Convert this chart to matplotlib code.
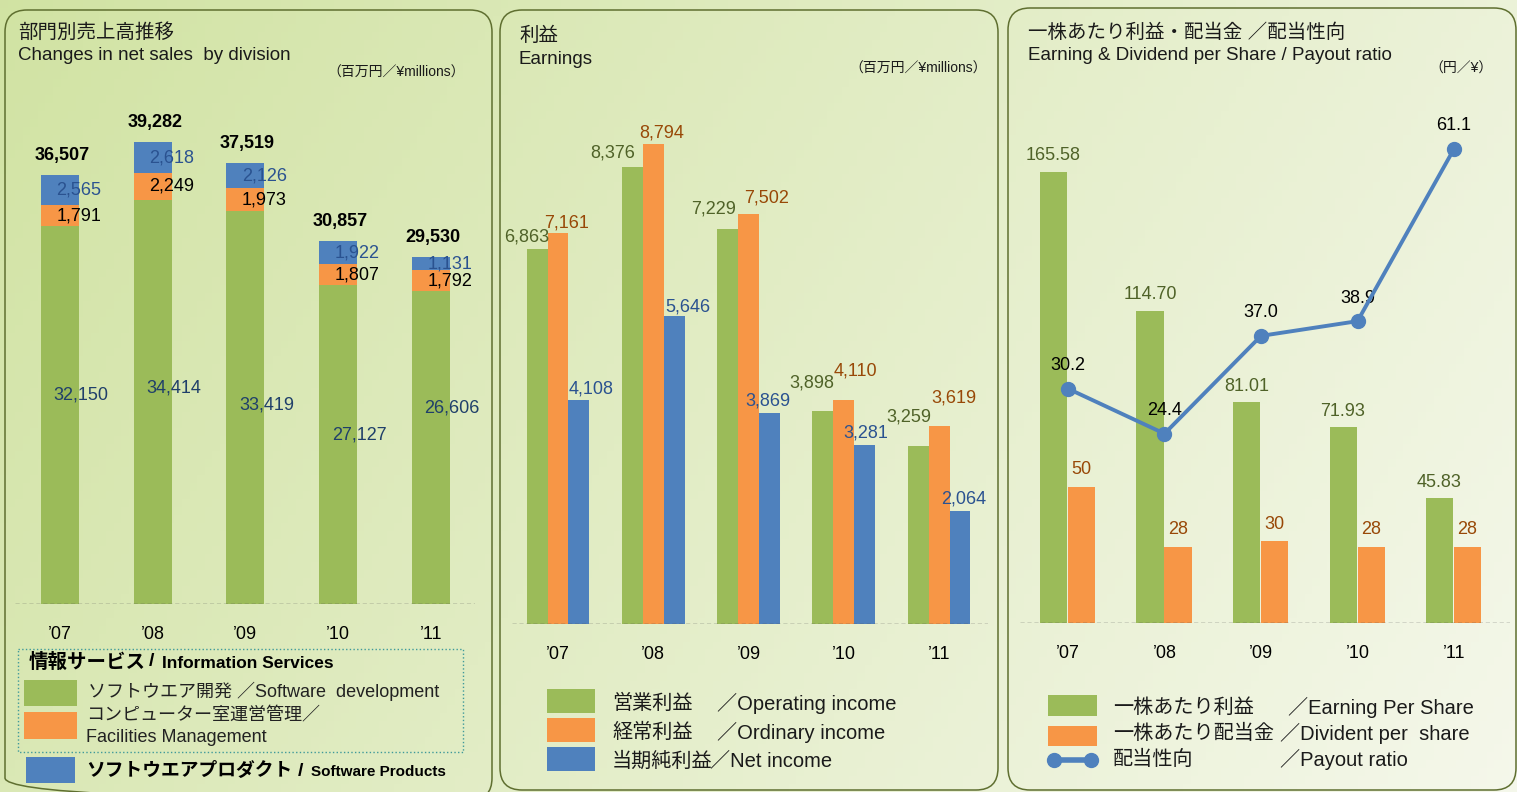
import numpy as np
import matplotlib.pyplot as plt
from matplotlib.patches import FancyBboxPatch, Rectangle
from matplotlib.lines import Line2D

plt.rcParams['font.family'] = ['Liberation Sans', 'Noto Sans CJK JP', 'DejaVu Sans']

# データ
years = ['’07', '’08', '’09', '’10', '’11']

# 部門別売上高 (百万円)
sw_dev = [32150, 34414, 33419, 27127, 26606]
facilities = [1791, 2249, 1973, 1807, 1792]
sw_products = [2565, 2618, 2126, 1922, 1131]
totals = [36507, 39282, 37519, 30857, 29530]

# 利益 (百万円)
operating = [6863, 8376, 7229, 3898, 3259]
ordinary = [7161, 8794, 7502, 4110, 3619]
net_income = [4108, 5646, 3869, 3281, 2064]

# 一株あたり (円) / 配当性向 (%)
eps = [165.58, 114.70, 81.01, 71.93, 45.83]
dps = [50, 28, 30, 28, 28]
payout = [30.2, 24.4, 37.0, 38.9, 61.1]

GREEN = '#9bbb59'
ORANGE = '#f79646'
BLUE = '#4f81bd'
OLIVE_TXT = '#4f6228'
BROWN_TXT = '#984807'
NAVY_TXT = '#1f3f6a'
BLUE_TXT = '#2a5290'

# ラベルのずらし量 (ピクセル)
dev_dy = [20, 14, 3, 10, 40]
op_off = [(-10, 12), (-20, 14), (-14, 20), (-11, 28), (-9, 29)]
ord_off = [(9, 10), (8, 11), (18, 16), (12, 29), (15, 28)]
net_off = [(12, 11), (14, 9), (-2, 12), (1, 12), (4, 12)]

W, H = 1517, 792
fig = plt.figure(figsize=(W / 100, H / 100), dpi=100)

# 背景 (ピクセル座標)
bg = fig.add_axes([0, 0, 1, 1], zorder=0)
bg.set_xlim(0, W)
bg.set_ylim(H, 0)
bg.axis('off')
c1 = np.array([0.82, 0.89, 0.64])
c2 = np.array([0.96, 0.97, 0.92])
gx, gy = np.meshgrid(np.linspace(0, 1, 200), np.linspace(0, 1, 100))
t = np.clip(0.75 * gx + 0.25 * gy, 0, 1)[..., None]
bg.imshow(c1 * (1 - t) + c2 * t, extent=[0, W, H, 0], aspect='auto', zorder=0)

for x0, x1, y0, y1 in [(5, 492, 10, 800), (500, 998, 10, 790), (1008, 1516, 8, 790)]:
    bg.add_patch(FancyBboxPatch((x0, y0), x1 - x0, y1 - y0,
                                boxstyle='round,pad=0,rounding_size=22',
                                fc='none', ec='#5f6f30', lw=1.1, zorder=1))


def make_axes(left, right, top, bottom):
    ax = fig.add_axes([left / W, (H - bottom) / H, (right - left) / W, (bottom - top) / H], zorder=2)
    ax.patch.set_alpha(0)
    for s in ax.spines.values():
        s.set_visible(False)
    ax.set_yticks([])
    ax.tick_params(axis='x', length=0, pad=16, labelsize=13)
    ax.axhline(0, color='#555555', ls=(0, (3, 2)), lw=1, zorder=3)
    return ax


x = np.arange(len(years))
FS = 13

# ---- 部門別売上高推移 ----
ax1 = make_axes(15, 475, 100, 604)
ax1.set_xlim(-0.485, 4.475)
ax1.set_ylim(0, 42894)
w1 = 0.41
ax1.bar(x, sw_dev, w1, color=GREEN, zorder=2)
ax1.bar(x, facilities, w1, bottom=sw_dev, color=ORANGE, zorder=2)
b2 = np.array(sw_dev) + np.array(facilities)
ax1.bar(x, sw_products, w1, bottom=b2, color=BLUE, zorder=2)
for i in range(len(years)):
    ax1.annotate(f'{sw_dev[i]:,}', (x[i], sw_dev[i] / 2), xytext=(21, dev_dy[i]), textcoords='offset pixels',
                 ha='center', va='center', fontsize=FS, color=NAVY_TXT)
    ax1.annotate(f'{facilities[i]:,}', (x[i], sw_dev[i] + facilities[i] / 2), xytext=(19, 0),
                 textcoords='offset pixels', ha='center', va='center', fontsize=FS, color='black')
    ax1.annotate(f'{sw_products[i]:,}', (x[i], b2[i] + sw_products[i] / 2), xytext=(19, 0),
                 textcoords='offset pixels', ha='center', va='center', fontsize=FS, color=BLUE_TXT)
    ax1.annotate(f'{totals[i]:,}', (x[i], b2[i] + sw_products[i]), xytext=(2, 20),
                 textcoords='offset pixels', ha='center', va='center', fontsize=FS,
                 fontweight='bold', color='black')
ax1.set_xticks(x, years)

# ---- 利益 ----
ax2 = make_axes(512, 988, 100, 624)
ax2.set_xlim(-0.483, 4.514)
ax2.set_ylim(0, 9597)
w2 = 0.22
ax2.bar(x - w2, operating, w2, color=GREEN, zorder=2)
ax2.bar(x, ordinary, w2, color=ORANGE, zorder=2)
ax2.bar(x + w2, net_income, w2, color=BLUE, zorder=2)
for i in range(len(years)):
    ax2.annotate(f'{operating[i]:,}', (x[i] - w2, operating[i]), xytext=op_off[i],
                 textcoords='offset pixels', ha='center', va='center', fontsize=FS, color=OLIVE_TXT)
    ax2.annotate(f'{ordinary[i]:,}', (x[i], ordinary[i]), xytext=ord_off[i],
                 textcoords='offset pixels', ha='center', va='center', fontsize=FS, color=BROWN_TXT)
    ax2.annotate(f'{net_income[i]:,}', (x[i] + w2, net_income[i]), xytext=net_off[i],
                 textcoords='offset pixels', ha='center', va='center', fontsize=FS, color=BLUE_TXT)
ax2.set_xticks(x, years)

# ---- 一株あたり利益・配当金 / 配当性向 ----
ax3 = make_axes(1020, 1510, 100, 623)
ax3.set_xlim(-0.497, 4.58)
ax3.set_ylim(0, 192)
w3 = 0.28
ax3.bar(x - 0.15, eps, w3, color=GREEN, zorder=2)
ax3.bar(x + 0.14, dps, w3, color=ORANGE, zorder=2)
for i in range(len(years)):
    ax3.annotate(f'{eps[i]:.2f}', (x[i] - 0.15, eps[i]), xytext=(0, 16),
                 textcoords='offset pixels', ha='center', va='center', fontsize=FS, color=OLIVE_TXT)
    ax3.annotate(f'{dps[i]}', (x[i] + 0.14, dps[i]), xytext=(0, 17),
                 textcoords='offset pixels', ha='center', va='center', fontsize=FS, color=BROWN_TXT)
ax3.set_xticks(x, years)
ax3r = ax3.twinx()
ax3r.set_zorder(3)
ax3r.patch.set_alpha(0)
for s in ax3r.spines.values():
    s.set_visible(False)
ax3r.set_yticks([])
ax3r.set_ylim(0, 67.4)
ax3r.plot(x, payout, color=BLUE, lw=2.8, marker='o', ms=10, zorder=4)
for i in range(len(years)):
    ax3r.annotate(f'{payout[i]:.1f}', (x[i], payout[i]), xytext=(0, 23),
                  textcoords='offset pixels', ha='center', va='center', fontsize=FS, color='black')

# ---- タイトル ----
jt = dict(fontsize=14, color='#1a1a1a', va='center', ha='left', zorder=5)
et = dict(fontsize=13.5, color='#1a1a1a', va='center', ha='left', zorder=5)
ut = dict(fontsize=10, color='#1a1a1a', va='center', ha='right', zorder=5)
bg.text(18, 33, '部門別売上高推移', **jt)
bg.text(18, 56, 'Changes in net sales  by division', **et)
bg.text(465, 73, '（百万円／¥millions）', **ut)
bg.text(519, 36, '利益', **jt)
bg.text(519, 59, 'Earnings', **et)
bg.text(987, 69, '（百万円／¥millions）', **ut)
bg.text(1028, 33, '一株あたり利益・配当金 ／配当性向', **jt)
bg.text(1028, 56, 'Earning & Dividend per Share / Payout ratio', **et)
bg.text(1493, 69, '（円／¥）', **ut)

# ---- 凡例 1 ----
bg.add_patch(Rectangle((18, 649), 445, 103, fc='none', ec='#3f9a9a', ls=':', lw=1, zorder=4))
bg.text(29, 662, '情報サービス', fontsize=14, fontweight='bold', va='center', zorder=5)
bg.text(149, 662, '/', fontsize=14, fontweight='bold', va='center', zorder=5)
bg.text(162, 663, 'Information Services', fontsize=12.5, fontweight='bold', va='center', zorder=5)
bg.add_patch(Rectangle((24, 680), 53, 26, fc=GREEN, ec='none', zorder=4))
bg.text(88, 691, 'ソフトウエア開発 ／Software  development', fontsize=13, va='center', color='#222222', zorder=5)
bg.add_patch(Rectangle((24, 712), 53, 27, fc=ORANGE, ec='none', zorder=4))
bg.text(86, 716, 'コンピューター室運営管理／', fontsize=13, va='center', color='#222222', zorder=5)
bg.text(86, 737, 'Facilities Management', fontsize=13, va='center', color='#222222', zorder=5)
bg.add_patch(Rectangle((26, 757), 49, 26, fc=BLUE, ec='none', zorder=4))
bg.text(86, 771, 'ソフトウエアプロダクト', fontsize=13.5, fontweight='bold', va='center', zorder=5)
bg.text(298, 771, '/', fontsize=14, fontweight='bold', va='center', zorder=5)
bg.text(311, 772, 'Software Products', fontsize=11, fontweight='bold', va='center', zorder=5)

# ---- 凡例 2 ----
for yc, col, jp, en, ex in [(701, GREEN, '営業利益', '／Operating income', 717),
                            (730, ORANGE, '経常利益', '／Ordinary income', 717),
                            (759, BLUE, '当期純利益', '／Net income', 710)]:
    bg.add_patch(Rectangle((547, yc - 12), 48, 24, fc=col, ec='none', zorder=4))
    bg.text(612, yc + 2, jp, fontsize=14.5, va='center', color='#1a1a1a', zorder=5)
    bg.text(ex, yc + 2, en, fontsize=14.5, va='center', color='#1a1a1a', zorder=5)

# ---- 凡例 3 ----
bg.add_patch(Rectangle((1048, 695), 49, 21, fc=GREEN, ec='none', zorder=4))
bg.add_patch(Rectangle((1048, 726), 49, 20, fc=ORANGE, ec='none', zorder=4))
bg.add_line(Line2D([1054, 1091], [760, 760], color=BLUE, lw=4, marker='o', ms=10, zorder=5))
for yc, jp, en, ex in [(707, '一株あたり利益', '／Earning Per Share', 1288),
                       (733, '一株あたり配当金', '／Divident per  share', 1280),
                       (759, '配当性向', '／Payout ratio', 1280)]:
    bg.text(1113, yc, jp, fontsize=14.5, va='center', color='#1a1a1a', zorder=5)
    bg.text(ex, yc, en, fontsize=14.5, va='center', color='#1a1a1a', zorder=5)

fig.savefig('out.png', dpi=100)
